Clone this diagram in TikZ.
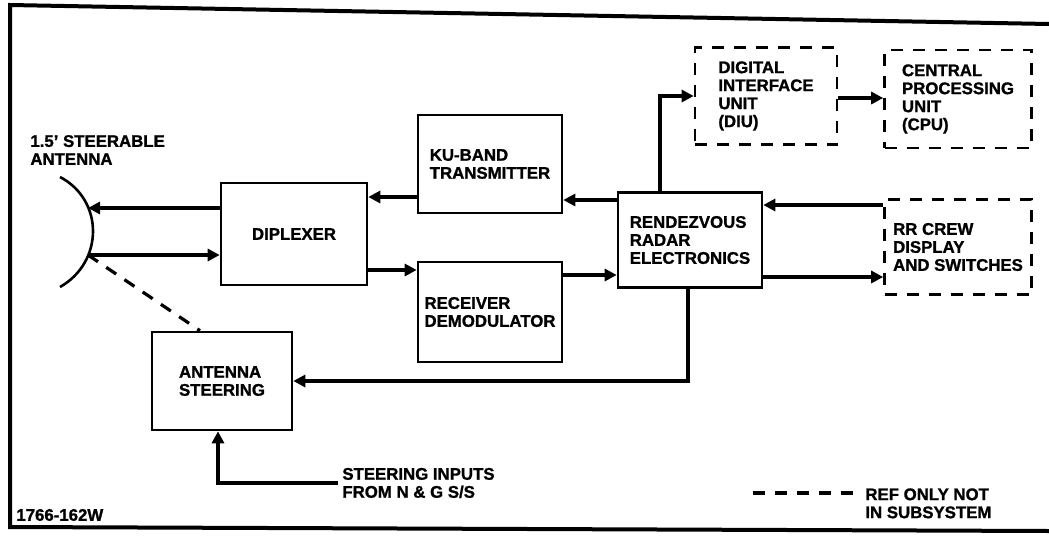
\documentclass[tikz,border=0pt]{standalone}
\usepackage{fontspec}
\setmainfont{Liberation Sans}[BoldFeatures={FakeBold=1.2}]
\usetikzlibrary{arrows.meta,positioning,calc}

\begin{document}
\begin{tikzpicture}[
    x=0.5pt,y=-0.5pt,
    font=\bfseries\fontsize{8.4}{9}\selectfont,
    unit/.style={rectangle,draw,line width=1.3pt,align=left,inner sep=0pt},
    extunit/.style={unit,dash pattern=on 6pt off 5pt},
    lbl/.style={align=left,inner sep=2pt},
    arrow/.style={line width=1.8pt,->,>={Triangle[length=6pt,width=6pt]}},
    refline/.style={line width=1.6pt,dash pattern=on 6pt off 5pt}
]
    \useasboundingbox (0,0) rectangle (1049,541);
    % frame (scanned sheet edge)
    \draw[line width=2pt] (1049,24) -- (10,5) -- (10,527) -- (1049,531);

    % main boxes
    \node[unit,minimum width=73pt,minimum height=51pt] (dip) at (294,234) {DIPLEXER};
    \node[unit,minimum width=72pt,minimum height=49pt] (ku) at (490,164) {KU-BAND\\TRANSMITTER};
    \node[unit,minimum width=72pt,minimum height=50pt] (rx) at (490,312) {RECEIVER\\DEMODULATOR};
    \node[unit,minimum width=72pt,minimum height=47.5pt] (rre) at (690,240) {RENDEZVOUS\\RADAR\\ELECTRONICS};
    \node[unit,minimum width=70pt,minimum height=49pt] (steer) at (222,381) {ANTENNA\\STEERING};

    % outside the subsystem
    \node[extunit,minimum width=71pt,minimum height=48.5pt] (diu) at (766,96) {DIGITAL\\INTERFACE\\UNIT\\(DIU)};
    \node[extunit,minimum width=73.5pt,minimum height=49pt] (cpu) at (958,99) {CENTRAL\\PROCESSING\\UNIT\\(CPU)};
    \node[extunit,minimum width=73.5pt,minimum height=47.5pt] (crew) at (958,247) {RR CREW\\DISPLAY\\AND SWITCHES};

    % antenna dish
    \draw[line width=1.3pt] (60,177) .. controls (104,200) and (104,262) .. (60,287);
    \coordinate (antT) at (88,208);
    \coordinate (antB) at (88,255);
    \node[lbl,anchor=west] (antlbl) at (26,150) {1.5' STEERABLE\\ANTENNA};

    % signal rows
    \coordinate (txrow) at (0,197);
    \coordinate (rxrow) at (0,270);
    \coordinate (rrerx) at (0,275);
    \coordinate (rretx) at (0,200);
    \coordinate (crewin) at (0,205);
    \coordinate (crewout) at (0,277);
    \coordinate (cpurow) at (0,98);
    \coordinate (diutap) at (660,0);
    \coordinate (steertap) at (688,0);

    \draw[arrow] (dip.west |- antT) -- (antT);
    \draw[arrow] (antB) -- (dip.west |- antB);
    \draw[arrow] (ku.west |- txrow) -- (dip.east |- txrow);
    \draw[arrow] (dip.east |- rxrow) -- (rx.west |- rxrow);
    \draw[arrow] (rx.east |- rrerx) -- (rre.west |- rrerx);
    \draw[arrow] (rre.west |- rretx) -- (ku.east |- rretx);
    \draw[arrow] (rre.north -| diutap) |- (diu.west);
    \draw[arrow] (diu.east |- cpurow) -- (cpu.west |- cpurow);
    \draw[arrow] (crew.west |- crewin) -- (rre.east |- crewin);
    \draw[arrow] (rre.east |- crewout) -- (crew.west |- crewout);
    \draw[arrow] (rre.south -| steertap) |- (steer.east);
    \draw[refline] (antB) -- ($(steer.north)+(-22,0)$);

    % steering inputs
    \node[lbl,anchor=west] (inp) at (338,483) {STEERING INPUTS\\FROM N \& G S/S};
    \draw[arrow] (inp.west) -| ($(steer.south)+(-4,0)$);

    % legend and drawing number
    \coordinate (legA) at (753,493);
    \coordinate (legB) at (855,493);
    \draw[refline] (legA) -- (legB);
    \node[lbl,anchor=north west] (leg) at (861,484) {REF ONLY NOT\\IN SUBSYSTEM};
    \node[lbl,anchor=west] (dwg) at (12,515) {1766-162W};
\end{tikzpicture}
\end{document}
